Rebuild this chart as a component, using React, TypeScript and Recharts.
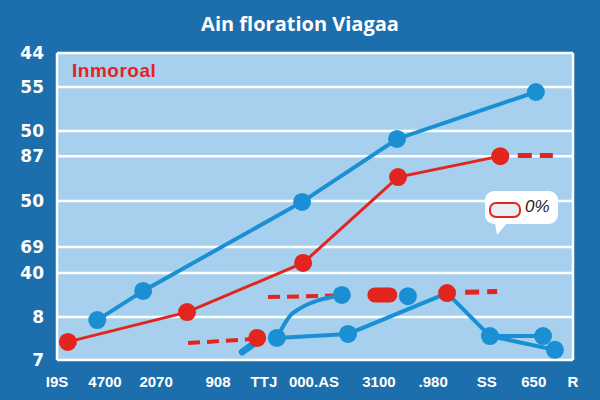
import { CartesianGrid, ComposedChart, Line, Scatter, XAxis, YAxis } from "recharts";

// x runs 0..100 across the plot, y 0..100 bottom to top
const yTicks = [0, 14, 28.3, 36.8, 51.8, 66.4, 74.6, 88.9, 100];
const yLabels = ["7", "8", "40", "69", "50", "87", "50", "55", "44"];
const xGrid = [0, 6.8, 18, 30.8, 47.3, 57.8, 69.6, 91.5, 100];
const xTicks = [0, 9.3, 19.2, 31.2, 40.1, 49.8, 62.4, 72.9, 83.3, 92.4, 100];
const xLabels = ["I9S", "4700", "2070", "908", "TTJ", "000.AS", "3100", ".980", "SS", "650", "R"];

const blueMain = [
  { x: 7.8, y: 13 },
  { x: 16.7, y: 22.5 },
  { x: 47.5, y: 51.5 },
  { x: 65.9, y: 72 },
  { x: 92.8, y: 87.3 },
];
const redMain = [
  { x: 2.1, y: 5.9 },
  { x: 25.2, y: 15.6 },
  { x: 47.7, y: 31.6 },
  { x: 66.1, y: 59.6 },
  { x: 85.9, y: 66.4 },
];
const redTail = [
  { x: 89.3, y: 66.6 },
  { x: 96.1, y: 66.6 },
];
const blueCurve = [
  { x: 42.6, y: 7.2 },
  { x: 45.7, y: 15.3 },
  { x: 55.2, y: 21.2 },
];
const blueLow = [
  { x: 42.6, y: 7.2 },
  { x: 56.4, y: 8.5 },
  { x: 75.6, y: 21.8 },
  { x: 83.9, y: 7.8 },
  { x: 94.2, y: 7.8 },
];
const blueDrop = [
  { x: 83.9, y: 7.8 },
  { x: 96.5, y: 3.3 },
];
const blueStub = [
  { x: 35.9, y: 2.6 },
  { x: 37.8, y: 4.9 },
];
const redDashA = [
  { x: 25.4, y: 5.5 },
  { x: 37.4, y: 6.8 },
];
const redDashB = [
  { x: 40.9, y: 20.5 },
  { x: 54.3, y: 21 },
];
const redDashC = [
  { x: 79.1, y: 22.1 },
  { x: 85.3, y: 22.3 },
];
const redOval = [
  { x: 61.6, y: 21.2 },
  { x: 64.5, y: 21.2 },
];
const blueDots = [
  { x: 42.6, y: 7.2 },
  { x: 56.4, y: 8.5 },
  { x: 55.2, y: 21.2 },
  { x: 68.0, y: 20.8 },
  { x: 83.9, y: 7.8 },
  { x: 94.2, y: 7.8 },
  { x: 96.5, y: 3.3 },
];
const redDots = [
  { x: 38.8, y: 7.2 },
  { x: 75.6, y: 21.8 },
];

const BLUE = "#1b8fd4";
const RED = "#e2251e";

const dot = (color: string) => (p: any) => (
  <circle key={`${p.cx}-${p.cy}`} cx={p.cx} cy={p.cy} r={9} fill={color} />
);

export default function App() {
  return (
    <div
      style={{
        position: "absolute",
        top: 0,
        left: 0,
        width: 600,
        height: 400,
        background: "#1d6eac",
        fontFamily: "'Liberation Sans', sans-serif",
        overflow: "hidden",
      }}
    >
      <div
        style={{
          position: "absolute",
          top: 10,
          width: 600,
          textAlign: "center",
          color: "#fff",
          fontFamily: "'Open Sans', sans-serif",
          fontWeight: 700,
          fontSize: 20,
        }}
      >
        Ain floration Viagaa
      </div>
      <ComposedChart
        width={600}
        height={400}
        margin={{ top: 53, right: 27, left: 12, bottom: 10 }}
      >
        <CartesianGrid
          xAxisId="g"
          fill="#a6d0ed"
          fillOpacity={1}
          stroke="#ffffff"
          strokeWidth={2.5}
        />
        <XAxis
          xAxisId="g"
          type="number"
          dataKey="x"
          domain={[0, 100]}
          ticks={xGrid}
          hide
        />
        <XAxis
          type="number"
          dataKey="x"
          domain={[0, 100]}
          ticks={xTicks}
          interval={0}
          tickFormatter={(v: number) => xLabels[xTicks.indexOf(v)]}
          tickSize={0}
          tickMargin={16}
          axisLine={false}
          height={30}
          tick={{ fill: "#fff", fontSize: 15, fontWeight: 700 }}
        />
        <YAxis
          type="number"
          domain={[0, 100]}
          ticks={yTicks}
          interval={0}
          tickFormatter={(v: number) => yLabels[yTicks.indexOf(v)]}
          tickSize={0}
          tickMargin={13}
          axisLine={false}
          width={45}
          tick={{ fill: "#fff", fontSize: 17, fontWeight: 700, fontFamily: "DejaVu Sans" }}
        />
        <Line data={redDashA} dataKey="y" stroke={RED} strokeWidth={4} strokeDasharray="12 7" dot={false} isAnimationActive={false} />
        <Line data={redDashB} dataKey="y" stroke={RED} strokeWidth={4} strokeDasharray="12 7" dot={false} isAnimationActive={false} />
        <Line data={redDashC} dataKey="y" stroke={RED} strokeWidth={5} strokeDasharray="14 8" dot={false} isAnimationActive={false} />
        <Line data={redTail} dataKey="y" stroke={RED} strokeWidth={5} strokeDasharray="14 8" dot={false} isAnimationActive={false} />
        <Line data={redOval} dataKey="y" stroke={RED} strokeWidth={15} strokeLinecap="round" dot={false} isAnimationActive={false} />
        <Line data={blueStub} dataKey="y" stroke={BLUE} strokeWidth={7} strokeLinecap="round" dot={false} isAnimationActive={false} />
        <Line data={blueCurve} dataKey="y" type="monotone" stroke={BLUE} strokeWidth={4} dot={false} isAnimationActive={false} />
        <Line data={blueLow} dataKey="y" stroke={BLUE} strokeWidth={4} dot={false} isAnimationActive={false} />
        <Line data={blueDrop} dataKey="y" stroke={BLUE} strokeWidth={4} dot={false} isAnimationActive={false} />
        <Line data={redMain} dataKey="y" stroke={RED} strokeWidth={3} dot={{ r: 9, fill: RED, stroke: "none" }} isAnimationActive={false} />
        <Line data={blueMain} dataKey="y" stroke={BLUE} strokeWidth={4} dot={{ r: 9, fill: BLUE, stroke: "none" }} isAnimationActive={false} />
        <Scatter data={blueDots} dataKey="y" shape={dot(BLUE)} isAnimationActive={false} />
        <Scatter data={redDots} dataKey="y" shape={dot(RED)} isAnimationActive={false} />
      </ComposedChart>
      <div
        style={{
          position: "absolute",
          left: 72,
          top: 60,
          color: RED,
          fontWeight: 700,
          fontSize: 19,
          letterSpacing: 0.5,
        }}
      >
        Inmoroal
      </div>
      <div
        style={{
          position: "absolute",
          left: 485,
          top: 191,
          width: 73,
          height: 33,
          background: "#fff",
          borderRadius: 9,
        }}
      >
        <div
          style={{
            position: "absolute",
            left: 4,
            top: 11,
            width: 28,
            height: 12,
            border: "2px solid " + RED,
            borderRadius: 7,
            background: "#e8eef2",
          }}
        />
        <div
          style={{
            position: "absolute",
            left: 40,
            top: 6,
            fontSize: 17,
            fontStyle: "italic",
            color: "#222",
          }}
        >
          0%
        </div>
        <div
          style={{
            position: "absolute",
            left: 10,
            top: 32,
            width: 0,
            height: 0,
            borderLeft: "2px solid transparent",
            borderRight: "10px solid transparent",
            borderTop: "12px solid #fff",
          }}
        />
      </div>
    </div>
  );
}
